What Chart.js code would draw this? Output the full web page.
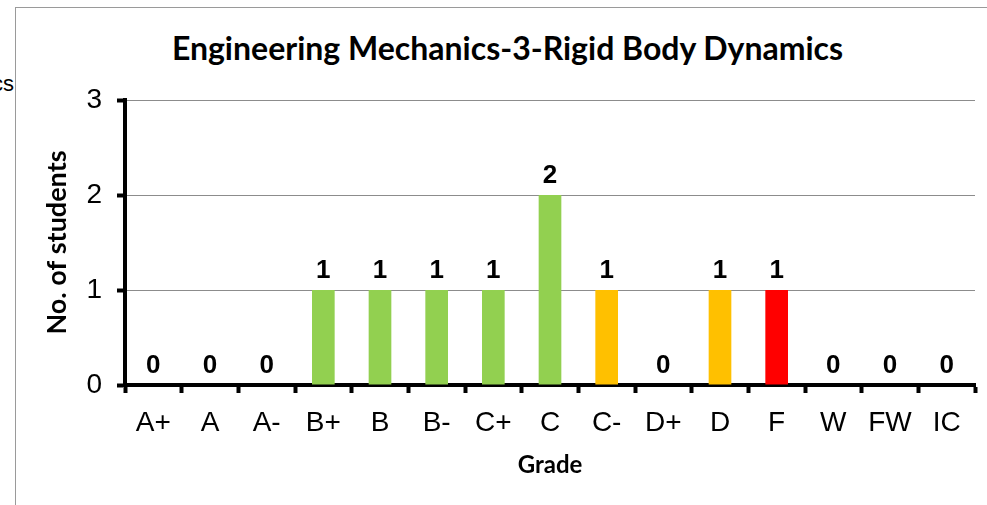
<!DOCTYPE html>
<html>
<head>
<meta charset="utf-8">
<script src="https://cdn.jsdelivr.net/npm/chart.js@4/dist/chart.umd.min.js"></script>
<style>
    html, body { margin: 0; padding: 0; background: #fff; }
    #wrap { position: relative; width: 987px; height: 505px; overflow: hidden; }
    #frame { position: absolute; left: 15px; top: 7px; width: 980px; height: 510px;
             border-top: 1px solid #9a9a9a; border-left: 1px solid #9a9a9a; }
    #cut { position: absolute; right: 973px; top: 71px; font: 22px "Liberation Sans", Arial, sans-serif; color: #000; white-space: nowrap; }
    #title { position: absolute; left: 0; width: 1015px; top: 28px; line-height: 40px; text-align: center;
             font: bold 32px Lato, "Open Sans", sans-serif; color: #000; }
    canvas { position: absolute; left: 0; top: 0; }
</style>
</head>
<body>
<div id="wrap">
    <div id="frame"></div>
    <div id="cut">ics</div>
    <div id="title">Engineering Mechanics-3-Rigid Body Dynamics</div>
    <canvas id="gradeChart" width="987" height="505"></canvas>
</div>
<script>
const grades = ['A+', 'A', 'A-', 'B+', 'B', 'B-', 'C+', 'C', 'C-', 'D+', 'D', 'F', 'W', 'FW', 'IC'];
const students = [0, 0, 0, 1, 1, 1, 1, 2, 1, 0, 1, 1, 0, 0, 0];
const barColors = ['#92D050', '#92D050', '#92D050', '#92D050', '#92D050', '#92D050', '#92D050', '#92D050',
                   '#FFC000', '#FFC000', '#FFC000', '#FF0000', '#FF0000', '#FF0000', '#FF0000'];
const yTicks = [0, 1, 2, 3];

// value labels above each bar
const valueLabels = {
    id: 'valueLabels',
    afterDatasetsDraw(chart) {
        const ctx = chart.ctx;
        const meta = chart.getDatasetMeta(0);
        ctx.save();
        ctx.font = 'bold 26px "Liberation Sans", Arial, sans-serif';
        ctx.fillStyle = '#000';
        ctx.textAlign = 'center';
        ctx.textBaseline = 'middle';
        meta.data.forEach((bar, i) => {
            ctx.fillText(String(students[i]), bar.x, bar.y - 19);
        });
        ctx.restore();
    }
};

new Chart(document.getElementById('gradeChart').getContext('2d'), {
    type: 'bar',
    data: {
        labels: grades,
        datasets: [{
            data: students,
            backgroundColor: barColors,
            borderWidth: 0,
            categoryPercentage: 1,
            barPercentage: 0.4
        }]
    },
    options: {
        responsive: false,
        animation: false,
        layout: { padding: { top: 100, right: 12, left: 0, bottom: 0 } },
        plugins: {
            legend: { display: false },
            tooltip: { enabled: false }
        },
        scales: {
            y: {
                min: 0,
                max: 3,
                afterBuildTicks: s => { s.ticks = yTicks.map(v => ({ value: v })); },
                afterFit: s => { s.width = 125; },
                ticks: { color: '#000', padding: 15, font: { family: '"Liberation Sans", Arial, sans-serif', size: 28 } },
                grid: { color: '#8c8c8c', lineWidth: 1, tickColor: '#000', tickWidth: 4, tickLength: 8 },
                border: { color: '#000', width: 4 },
                title: {
                    display: true,
                    text: 'No. of students',
                    color: '#000',
                    padding: { top: 41, bottom: 0 },
                    font: { family: 'Lato, "Open Sans", sans-serif', size: 27, weight: 'bold' }
                }
            },
            x: {
                afterFit: s => { s.height = 120; },
                ticks: { color: '#000', padding: 13, maxRotation: 0, autoSkip: false, font: { family: '"Liberation Sans", Arial, sans-serif', size: 28 } },
                grid: { offset: true, drawOnChartArea: false, tickColor: '#000', tickWidth: 4, tickLength: 8 },
                border: { color: '#000', width: 4 },
                title: {
                    display: true,
                    text: 'Grade',
                    color: '#000',
                    padding: { top: 0, bottom: 25 },
                    font: { family: 'Lato, "Open Sans", sans-serif', size: 24, weight: 'bold' }
                }
            }
        }
    },
    plugins: [valueLabels]
});
</script>
</body>
</html>
